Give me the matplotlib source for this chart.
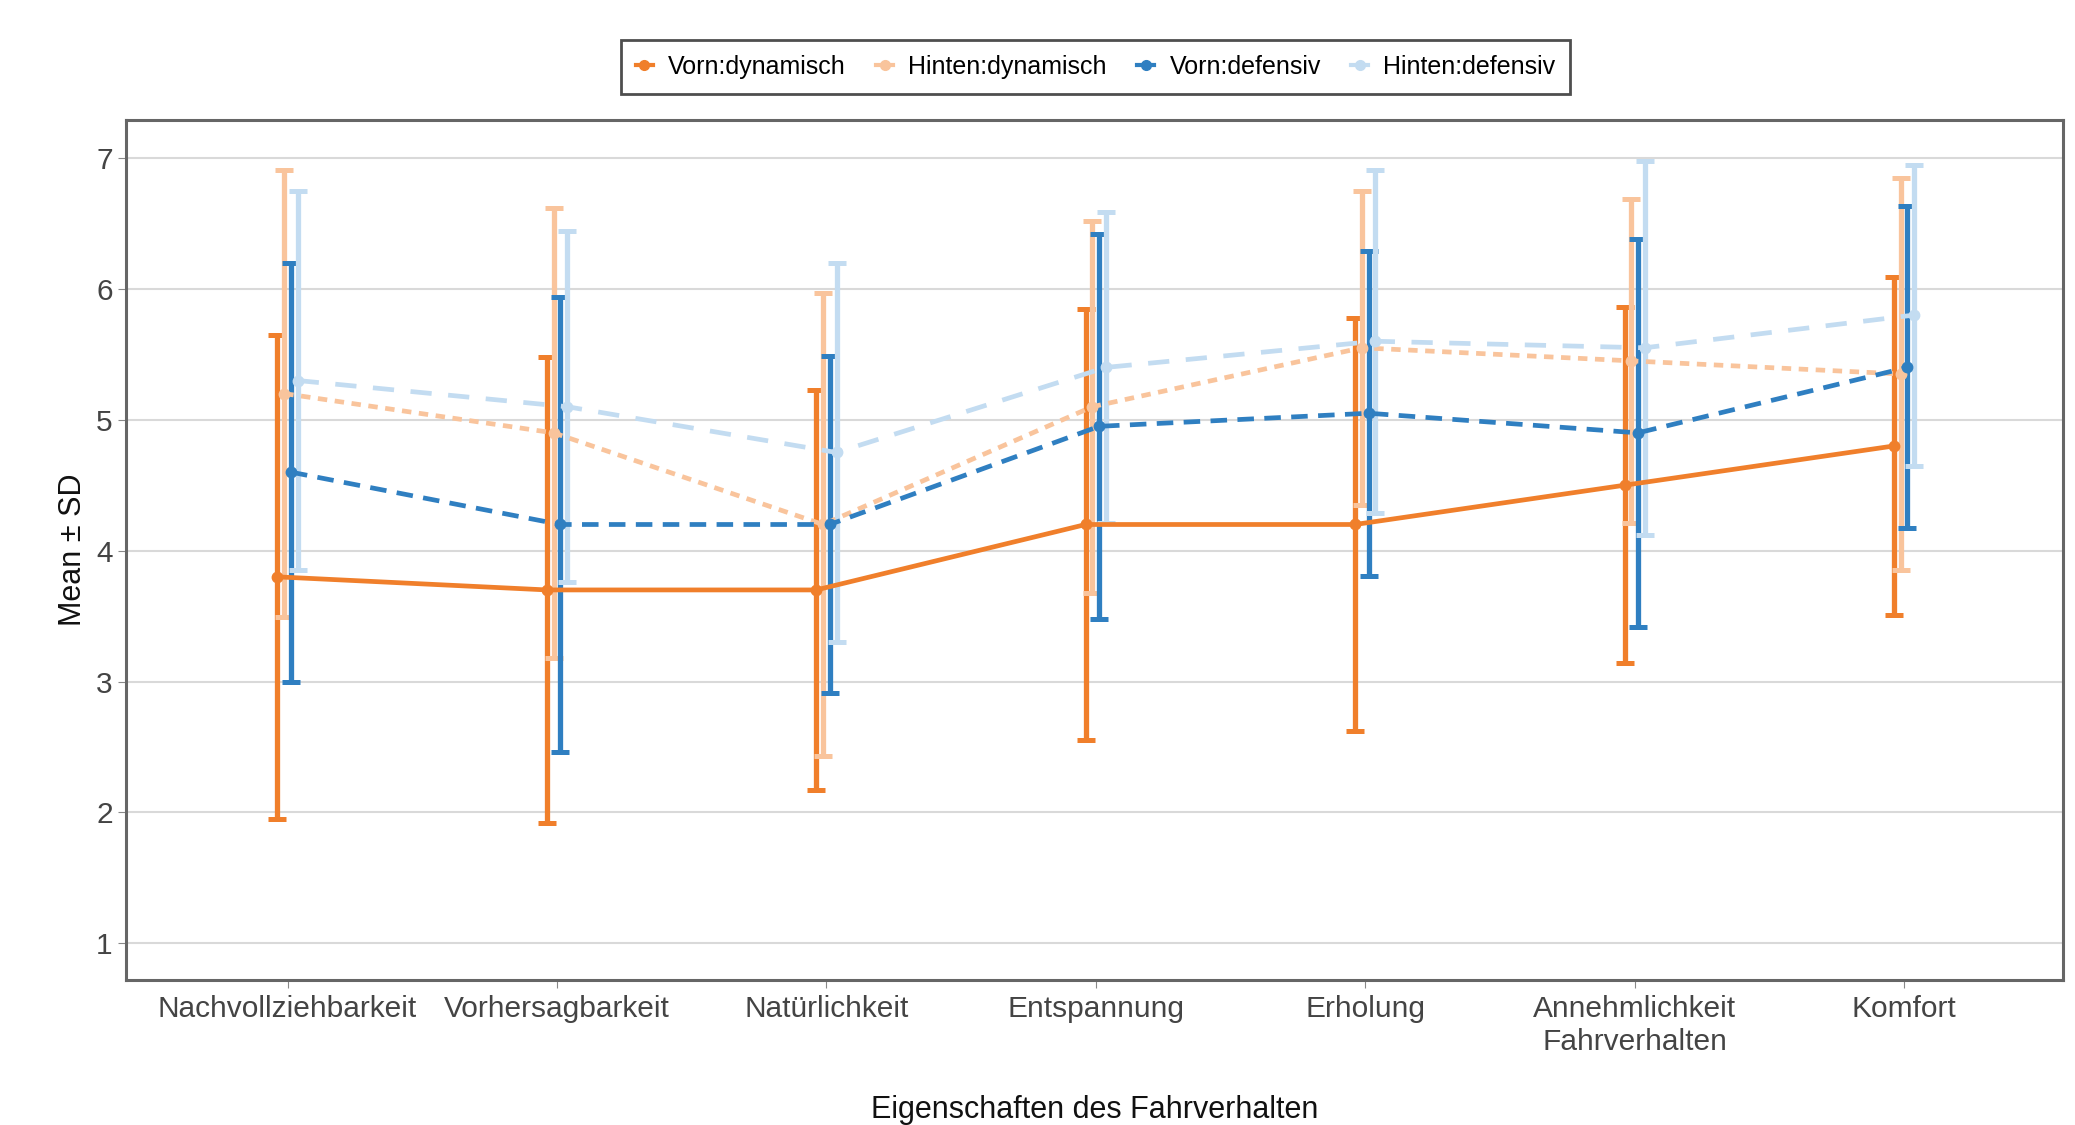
import matplotlib
matplotlib.use("Agg")
import matplotlib.pyplot as plt
import numpy as np

plt.rcParams['font.family'] = ['Liberation Sans', 'DejaVu Sans']

categories = ["Nachvollziehbarkeit", "Vorhersagbarkeit", "Natürlichkeit", "Entspannung",
              "Erholung", "Annehmlichkeit\nFahrverhalten", "Komfort"]
groups = ["Vorn:dynamisch", "Hinten:dynamisch", "Vorn:defensiv", "Hinten:defensiv"]

mean_vorn_dyn = [3.80, 3.70, 3.70, 4.20, 4.20, 4.50, 4.80]
sd_vorn_dyn = [1.85, 1.78, 1.53, 1.65, 1.58, 1.36, 1.29]
mean_hinten_dyn = [5.20, 4.90, 4.20, 5.10, 5.55, 5.45, 5.35]
sd_hinten_dyn = [1.71, 1.72, 1.77, 1.42, 1.20, 1.24, 1.50]
mean_vorn_def = [4.60, 4.20, 4.20, 4.95, 5.05, 4.90, 5.40]
sd_vorn_def = [1.60, 1.74, 1.29, 1.47, 1.24, 1.48, 1.23]
mean_hinten_def = [5.30, 5.10, 4.75, 5.40, 5.60, 5.55, 5.80]
sd_hinten_def = [1.45, 1.34, 1.45, 1.19, 1.31, 1.43, 1.15]

means = [mean_vorn_dyn, mean_hinten_dyn, mean_vorn_def, mean_hinten_def]
sds = [sd_vorn_dyn, sd_hinten_dyn, sd_vorn_def, sd_hinten_def]
colors = ["#F07F2B", "#F9C49C", "#2F7FC1", "#C3DCF1"]
styles = ["-", (0, (2.0, 1.6)), (0, (3.5, 2.2)), (0, (4.5, 3.5))]
offsets = [-0.0375, -0.0125, 0.0125, 0.0375]

fig = plt.figure(figsize=(20.75, 11.25), dpi=100)
ax = fig.add_axes([0.0607, 0.1289, 0.9335, 0.7644])

x = np.arange(len(categories))
handles = []
for m, s, c, ls, off, g in zip(means, sds, colors, styles, offsets, groups):
    xs = x + off
    ax.errorbar(xs, m, yerr=s, fmt='none', ecolor=c, elinewidth=3.8, capsize=6.5,
                capthick=3.6, zorder=3)
    ax.plot(xs, m, color=c, linestyle=ls, linewidth=3.4, zorder=4)
    ax.plot(xs, m, 'o', color=c, markersize=7.5, zorder=5)
    h, = ax.plot([], [], marker='o', color=c, linestyle='-', linewidth=3, markersize=7)
    handles.append(h)

ax.set_xlim(-0.6, 6.59)
ax.set_ylim(0.72, 7.29)
ax.set_xticks(x)
ax.set_xticklabels(categories, fontsize=21.5, color="#444444")
ax.set_yticks([1, 2, 3, 4, 5, 6, 7])
ax.tick_params(axis='y', labelsize=21.5, labelcolor="#444444", color="#888888", length=6)
ax.tick_params(axis='x', color="#888888", length=6, pad=5)
ax.grid(True, axis='y', color="#D9D9D9", linewidth=1.5, zorder=0)
ax.set_axisbelow(True)
for sp in ax.spines.values():
    sp.set_color("#666666")
    sp.set_linewidth(2.2)

ax.set_ylabel("Mean ± SD", fontsize=22, color="#111111", labelpad=6)
ax.set_xlabel("Eigenschaften des Fahrverhalten", fontsize=22, color="#111111", labelpad=28)

leg = fig.legend(handles, groups, loc='center', bbox_to_anchor=(0.528, 0.9406), ncol=4,
                 fontsize=18, frameon=True, fancybox=False, handlelength=0.7,
                 handletextpad=0.6, columnspacing=1.2, borderpad=0.6)
leg.get_frame().set_edgecolor("#222222")
leg.get_frame().set_linewidth(2.0)

fig.savefig("out.png", dpi=100)
